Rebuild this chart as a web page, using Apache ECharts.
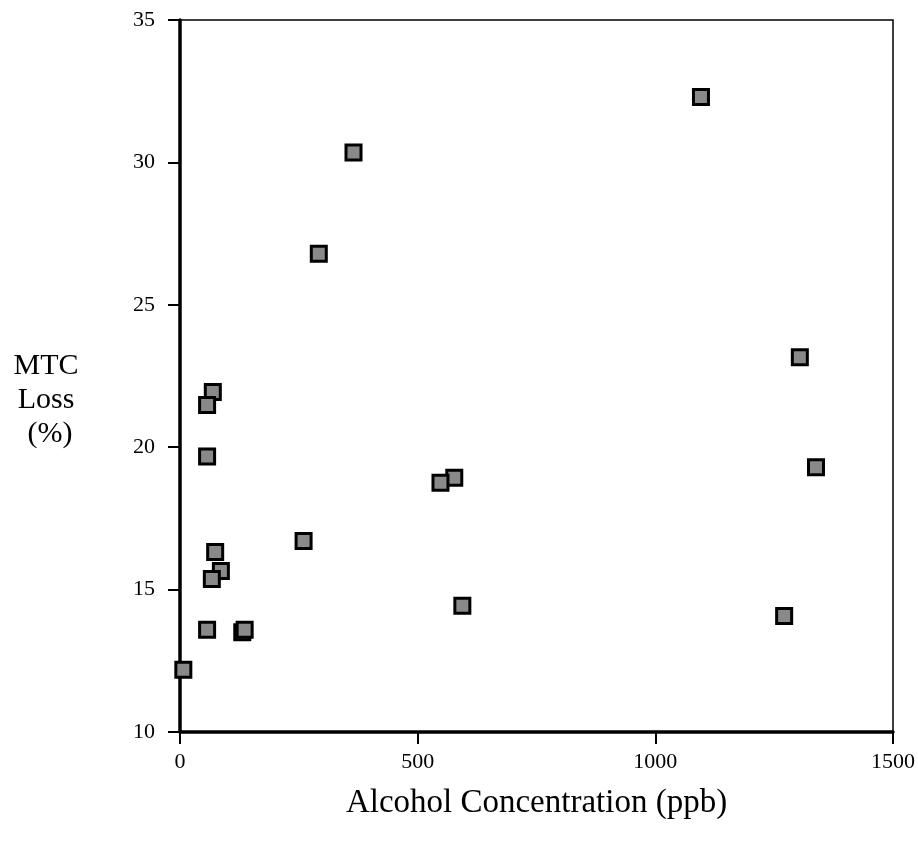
<!DOCTYPE html>
<html>
<head>
<meta charset="utf-8">
<script src="https://cdn.jsdelivr.net/npm/echarts@6/dist/echarts.min.js"></script>
<style>
  html, body { margin: 0; padding: 0; background: #ffffff; }
  #chart { width: 918px; height: 847px; }
</style>
</head>
<body>
<div id="chart"></div>
<script>
// Alcohol concentration (ppb) vs MTC loss (%)
const alcoholPpb = [1096, 365, 292, 1304, 69, 57, 57, 1338, 577, 548, 260, 74, 86, 67, 594, 1271, 57, 131, 136, 7];
const mtcLossPct = [32.30, 30.35, 26.79, 23.16, 21.94, 21.48, 19.67, 19.30, 18.93, 18.75, 16.71, 16.32, 15.65, 15.37, 14.43, 14.07, 13.59, 13.50, 13.59, 12.19];
const xTicks = [0, 500, 1000, 1500];
const yTicks = [10, 15, 20, 25, 30, 35];
const yTitleLines = ['MTC', 'Loss', '(%)'];

const points = alcoholPpb.map((x, i) => [x, mtcLossPct[i]]);
const serif = 'Liberation Serif';

// Stacked y-axis title, one centred line per element
const yTitle = yTitleLines.map((t, i) => ({
  type: 'text',
  x: i === 2 ? 50 : 46,
  y: 366 + i * 34,
  style: {
    text: t, fontFamily: serif, fontSize: 30, fill: '#000',
    align: 'center', verticalAlign: 'middle'
  }
}));

const chart = echarts.init(document.getElementById('chart'));
chart.setOption({
  backgroundColor: '#ffffff',
  animation: false,
  grid: {
    left: 180, right: 22, top: 20, bottom: 115,
    show: true, borderColor: '#000', borderWidth: 1.5, backgroundColor: 'transparent'
  },
  graphic: yTitle,
  xAxis: {
    type: 'value',
    min: xTicks[0], max: xTicks[xTicks.length - 1], interval: 500,
    name: 'Alcohol Concentration (ppb)',
    nameLocation: 'middle', nameGap: 55,
    nameTextStyle: { fontFamily: serif, fontSize: 33, color: '#000' },
    axisLine: { show: true, onZero: false, lineStyle: { color: '#000', width: 3.5 } },
    axisTick: { show: true, inside: false, length: 12, lineStyle: { color: '#000', width: 2 } },
    axisLabel: { fontFamily: serif, fontSize: 22, color: '#000', margin: 19, formatter: v => String(v) },
    splitLine: { show: false }
  },
  yAxis: {
    type: 'value',
    min: yTicks[0], max: yTicks[yTicks.length - 1], interval: 5,
    axisLine: { show: true, onZero: false, lineStyle: { color: '#000', width: 3.5 } },
    axisTick: { show: true, inside: false, length: 12, lineStyle: { color: '#000', width: 2 } },
    axisLabel: { fontFamily: serif, fontSize: 22, color: '#000', margin: 25, formatter: v => String(v) },
    splitLine: { show: false }
  },
  series: [{
    type: 'scatter',
    data: points,
    symbol: 'rect',
    symbolSize: 15,
    itemStyle: { color: '#898989', borderColor: '#000', borderWidth: 3, opacity: 1 },
    emphasis: { disabled: true }
  }]
});
</script>
</body>
</html>
